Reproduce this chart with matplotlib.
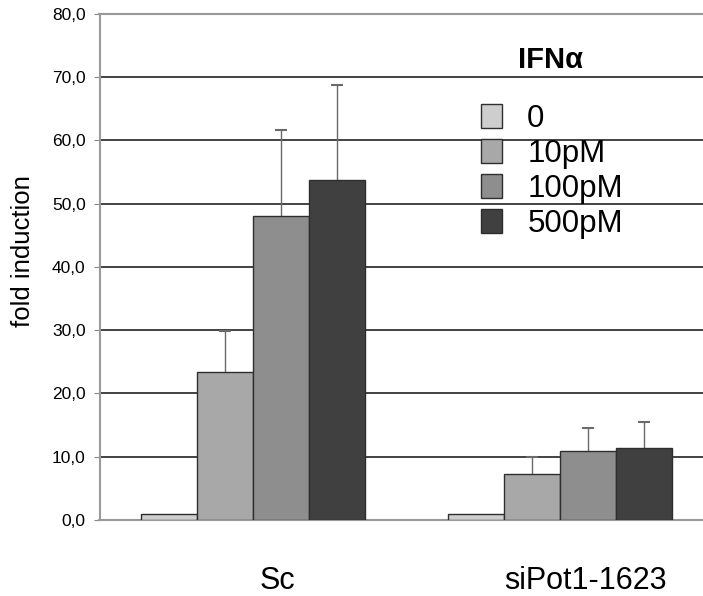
import matplotlib
matplotlib.use("Agg")
import matplotlib.pyplot as plt
import matplotlib.transforms as mtransforms
from matplotlib.patches import Patch
import numpy as np

plt.rcParams['font.family'] = ['Liberation Sans', 'DejaVu Sans']

groups = ["Sc", "siPot1-1623"]
doses = ["0", "10pM", "100pM", "500pM"]
values = {
    "0":     [1.0, 1.0],
    "10pM":  [23.4, 7.2],
    "100pM": [48.1, 10.9],
    "500pM": [53.8, 11.3],
}
errors = {
    "0":     [0.0, 0.0],
    "10pM":  [6.5, 2.7],
    "100pM": [13.5, 3.7],
    "500pM": [15.0, 4.2],
}
colors = ["#cecece", "#a8a8a8", "#8e8e8e", "#404040"]
yticks = [0, 10, 20, 30, 40, 50, 60, 70, 80]
ytick_labels = ["0,0", "10,0", "20,0", "30,0", "40,0", "50,0", "60,0", "70,0", "80,0"]

W, H = 703, 596
fig = plt.figure(figsize=(W / 100, H / 100), dpi=100)
ax = fig.add_axes([99.5 / W, 1 - 520 / H, (W - 99.5) / W, (520 - 13.7) / H])

x = np.arange(len(groups))
bw = 0.182
for i, d in enumerate(doses):
    pos = x + (i - 1.5) * bw
    ax.bar(pos, values[d], width=bw, color=colors[i], edgecolor="#2e2e2e",
           linewidth=1.0, zorder=3)
    errs = np.array(errors[d])
    mask = errs > 0
    if mask.any():
        eb = ax.errorbar(pos[mask], np.array(values[d])[mask],
                         yerr=[np.zeros(mask.sum()), errs[mask]],
                         fmt="none", ecolor="#6a6a6a", elinewidth=1.0,
                         capsize=4, capthick=1.5, zorder=2)
        caps = eb[1]
        if len(caps) >= 2:
            caps[0].set_visible(False)

ax.set_xlim(-0.4985, 1.4655)
ax.set_ylim(0, 80)
ax.set_yticks(yticks)
ax.set_yticklabels(ytick_labels, fontsize=12.5)
ax.tick_params(axis="y", length=4, color="#888888", pad=6)
ax.set_axisbelow(True)
ax.grid(axis="y", color="#222222", linewidth=1.2)

ax.set_xticks(x)
ax.set_xticklabels(groups, fontsize=22)
ax.tick_params(axis="x", length=0, pad=33)
offset = mtransforms.ScaledTranslation(25 / 100, 0, fig.dpi_scale_trans)
for lab in ax.get_xticklabels():
    lab.set_transform(lab.get_transform() + offset)

for s in ["left", "bottom", "top"]:
    ax.spines[s].set_color("#999999")
    ax.spines[s].set_linewidth(1.5)
ax.spines["right"].set_visible(False)

ax.set_ylabel("fold induction", fontsize=18.5)
ax.yaxis.label.set_va("center")
ax.yaxis.set_label_coords((23 - 99.5) / 603.5, (520 - 251) / 506.3)

fig.text(518 / W, 1 - 60 / H, "IFNα", fontsize=21, fontweight="bold",
         ha="left", va="center")

handles = [Patch(facecolor=c, edgecolor="#2e2e2e", linewidth=1.0) for c in colors]
leg = ax.legend(handles, doses, loc="upper left",
                bbox_to_anchor=(481 / W, 1 - 104 / H), bbox_transform=fig.transFigure,
                frameon=False, fontsize=22.5, borderpad=0, borderaxespad=0,
                handlelength=0.68, handleheight=0.8, handletextpad=0.8,
                labelspacing=0.16)

fig.savefig("out.png", dpi=100)
